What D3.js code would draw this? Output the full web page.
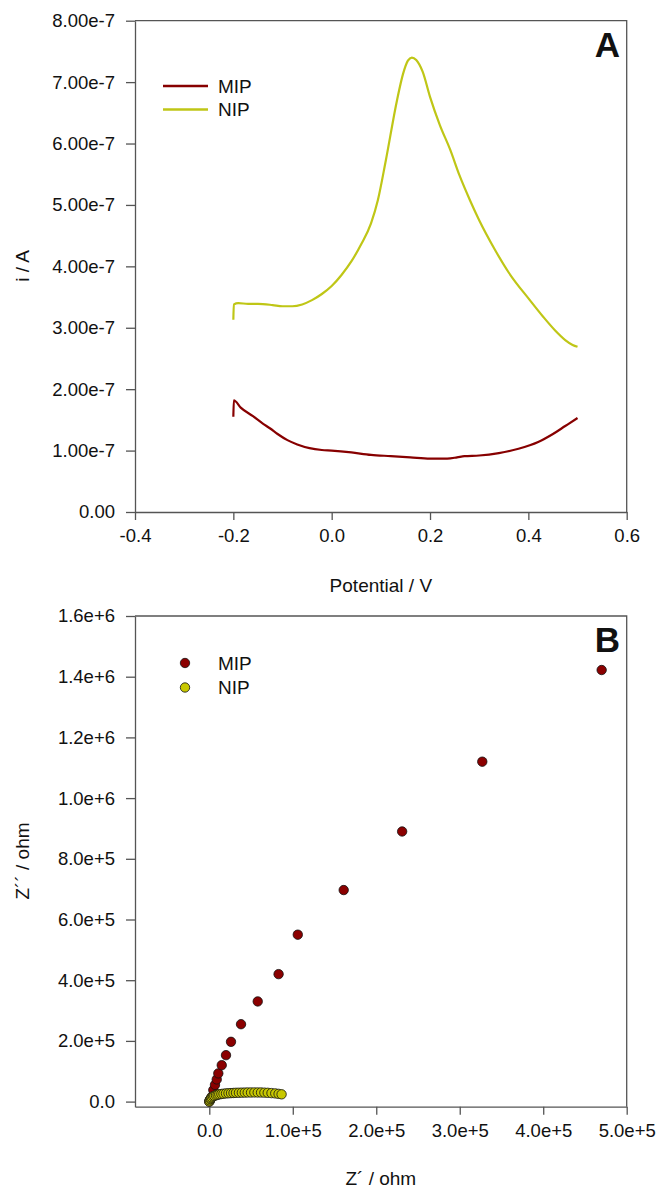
<!DOCTYPE html>
<html>
<head>
<meta charset="utf-8">
<script src="https://cdn.jsdelivr.net/npm/d3@7"></script>
<style>
  body { margin: 0; background: #fff; }
  text { font-family: "Liberation Sans", Arial, sans-serif; fill: #111; }
</style>
</head>
<body>
<script>
// Panel A: current vs potential
let mipPotential = [-0.200, -0.199, -0.185, -0.160, -0.140, -0.125, -0.110, -0.090, -0.070, -0.045, -0.020, 0.000, 0.040, 0.080, 0.120, 0.160, 0.200, 0.235, 0.255, 0.270, 0.300, 0.340, 0.380, 0.420, 0.450, 0.475, 0.500];
let mipCurrent = [1.55, 1.82, 1.70, 1.56, 1.44, 1.36, 1.27, 1.17, 1.10, 1.04, 1.01, 1.00, 0.97, 0.93, 0.91, 0.89, 0.87, 0.87, 0.89, 0.91, 0.92, 0.96, 1.03, 1.14, 1.27, 1.40, 1.53].map(v => v * 1e-7);

let nipPotential = [-0.200, -0.199, -0.190, -0.170, -0.150, -0.120, -0.100, -0.080, -0.060, -0.040, -0.020, 0.000, 0.020, 0.040, 0.060, 0.080, 0.094, 0.110, 0.133, 0.145, 0.155, 0.163, 0.172, 0.185, 0.200, 0.220, 0.241, 0.260, 0.281, 0.300, 0.332, 0.360, 0.403, 0.430, 0.454, 0.475, 0.490, 0.500];
let nipCurrent = [3.13, 3.38, 3.40, 3.39, 3.39, 3.37, 3.35, 3.35, 3.38, 3.45, 3.55, 3.68, 3.86, 4.08, 4.36, 4.70, 5.08, 5.72, 6.71, 7.13, 7.35, 7.40, 7.36, 7.17, 6.76, 6.30, 5.90, 5.48, 5.08, 4.75, 4.27, 3.90, 3.45, 3.18, 2.96, 2.80, 2.72, 2.69].map(v => v * 1e-7);

let potentialTicks = [-0.4, -0.2, 0.0, 0.2, 0.4, 0.6];
let currentTicks = [0, 1e-7, 2e-7, 3e-7, 4e-7, 5e-7, 6e-7, 7e-7, 8e-7];

// Panel B: Nyquist plot (Z' and Z'' in ohm)
let mipZre = [0.000, 0.008, 0.016, 0.029, 0.048, 0.068, 0.089, 0.108, 0.149, 0.200, 0.260, 0.380, 0.580, 0.830, 1.060, 1.610, 2.310, 3.270, 4.700].map(v => v * 1e5);
let mipZim = [0.000, 0.050, 0.090, 0.160, 0.380, 0.550, 0.730, 0.930, 1.200, 1.530, 1.970, 2.550, 3.300, 4.200, 5.500, 6.970, 8.900, 11.20, 14.22].map(v => v * 1e5);

let nipZre = [0.000, 0.005, 0.012, 0.020, 0.030, 0.045, 0.060, 0.080, 0.100, 0.120, 0.145, 0.170, 0.200, 0.230, 0.260, 0.290, 0.320, 0.355, 0.390, 0.425, 0.460, 0.500, 0.540, 0.580, 0.620, 0.660, 0.700, 0.745, 0.790, 0.830, 0.866].map(v => v * 1e5);
let nipZim = [0.00, 0.40, 0.80, 1.10, 1.40, 1.70, 1.90, 2.10, 2.25, 2.40, 2.50, 2.60, 2.70, 2.75, 2.80, 2.85, 2.90, 2.92, 2.95, 2.97, 3.00, 3.00, 3.02, 3.00, 3.00, 2.95, 2.90, 2.80, 2.70, 2.55, 2.40].map(v => v * 1e4);

let zreTicks = [0, 1e5, 2e5, 3e5, 4e5, 5e5];
let zimTicks = [0, 2e5, 4e5, 6e5, 8e5, 1e6, 1.2e6, 1.4e6, 1.6e6];

let seriesNames = ["MIP", "NIP"];
let lineColors = ["#870000", "#bfc616"];
let dotColors = ["#8b0000", "#c8c800"];

let axisColor = "#555";

let svg = d3.select("body")
  .append("svg")
    .attr("width", 656)
    .attr("height", 1189);

// Formatters that keep a plain hyphen and the SigmaPlot style zero
let fmtPot = (d) => d.toFixed(1);
let fmtCur = (d) => d === 0 ? "0.00" : d.toExponential(2);
let fmtZ = (d) => d === 0 ? "0.0" : d.toExponential(1);

function drawFrame(g, x, y, xTicks, yTicks, xFmt, yFmt) {
  let [x0, x1] = x.range();
  let [y0, y1] = y.range();

  // Bottom axis
  let xa = g.append("g")
    .attr("transform", "translate(0," + y0 + ")")
    .call(d3.axisBottom(x).tickValues(xTicks).tickFormat(xFmt).tickSize(8).tickPadding(9).tickSizeOuter(0));
  // Left axis
  let ya = g.append("g")
    .attr("transform", "translate(" + x0 + ",0)")
    .call(d3.axisLeft(y).tickValues(yTicks).tickFormat(yFmt).tickSize(9).tickPadding(11).tickSizeOuter(0));

  [xa, ya].forEach((a) => {
    a.select(".domain").attr("stroke", axisColor).attr("stroke-width", 1.3);
    a.selectAll(".tick line").attr("stroke", axisColor).attr("stroke-width", 1.3);
    a.selectAll(".tick text")
      .style("font-size", "18.5px")
      .style("font-family", "'Liberation Sans', Arial, sans-serif")
      .attr("fill", "#111");
  });

  // Top and right border
  g.append("path")
    .attr("d", "M" + x0 + "," + y1 + "H" + x1 + "V" + y0)
    .attr("fill", "none")
    .attr("stroke", axisColor)
    .attr("stroke-width", 1.3);
}

// ---------- Panel A ----------
let gA = svg.append("g");
let xA = d3.scaleLinear().domain([-0.4, 0.6]).range([135, 626.7]);
let yA = d3.scaleLinear().domain([0, 8e-7]).range([512, 20.7]);

drawFrame(gA, xA, yA, potentialTicks, currentTicks, fmtPot, fmtCur);

let lineA = d3.line()
  .x((d) => xA(d[0]))
  .y((d) => yA(d[1]))
  .curve(d3.curveMonotoneX);
let seriesA = [
  d3.zip(mipPotential, mipCurrent),
  d3.zip(nipPotential, nipCurrent)
];
seriesA.forEach((s, i) => {
  gA.append("path")
    .datum(s)
    .attr("d", lineA)
    .attr("fill", "none")
    .attr("stroke", lineColors[i])
    .attr("stroke-width", 2.2)
    .attr("stroke-linejoin", "round");
});

// Legend A
seriesNames.forEach((name, i) => {
  let ly = 86 + i * 23.5;
  gA.append("line")
    .attr("x1", 163).attr("x2", 208)
    .attr("y1", ly).attr("y2", ly)
    .attr("stroke", lineColors[i])
    .attr("stroke-width", 2.4);
  gA.append("text")
    .attr("x", 218).attr("y", ly)
    .attr("dy", "0.35em")
    .style("font-size", "19px")
    .text(name);
});

// Panel letter and axis titles
gA.append("text")
  .attr("x", 620).attr("y", 57)
  .attr("text-anchor", "end")
  .style("font-size", "35px")
  .style("font-weight", "bold")
  .text("A");

gA.append("text")
  .attr("x", (135 + 626.7) / 2).attr("y", 592)
  .attr("text-anchor", "middle")
  .style("font-size", "19px")
  .text("Potential / V");

gA.append("text")
  .attr("transform", "rotate(-90)")
  .attr("x", -266).attr("y", 29)
  .attr("text-anchor", "middle")
  .style("font-size", "19px")
  .text("i / A");

// ---------- Panel B ----------
let gB = svg.append("g");
let xB = d3.scaleLinear().domain([-0.89e5, 5e5]).range([135, 626.7]);
let yB = d3.scaleLinear().domain([-1.68e4, 1.6e6]).range([1106.7, 616]);

drawFrame(gB, xB, yB, zreTicks, zimTicks, fmtZ, fmtZ);

let seriesB = [
  d3.zip(mipZre, mipZim),
  d3.zip(nipZre, nipZim)
];
seriesB.forEach((s, i) => {
  gB.append("g")
    .selectAll("circle")
    .data(s).enter()
    .append("circle")
      .attr("cx", (d) => xB(d[0]))
      .attr("cy", (d) => yB(d[1]))
      .attr("r", 4.7)
      .attr("fill", dotColors[i])
      .attr("stroke", "#111")
      .attr("stroke-width", 0.8);
});

// Legend B
seriesNames.forEach((name, i) => {
  let ly = 663 + i * 24.5;
  gB.append("circle")
    .attr("cx", 185).attr("cy", ly)
    .attr("r", 4.7)
    .attr("fill", dotColors[i])
    .attr("stroke", "#111")
    .attr("stroke-width", 0.8);
  gB.append("text")
    .attr("x", 218).attr("y", ly)
    .attr("dy", "0.35em")
    .style("font-size", "19px")
    .text(name);
});

gB.append("text")
  .attr("x", 620).attr("y", 652)
  .attr("text-anchor", "end")
  .style("font-size", "35px")
  .style("font-weight", "bold")
  .text("B");

gB.append("text")
  .attr("x", (135 + 626.7) / 2).attr("y", 1185)
  .attr("text-anchor", "middle")
  .style("font-size", "19px")
  .text("Z\u00B4 / ohm");

gB.append("text")
  .attr("transform", "rotate(-90)")
  .attr("x", -861).attr("y", 29)
  .attr("text-anchor", "middle")
  .style("font-size", "19px")
  .text("Z\u00B4\u00B4 / ohm");
</script>
</body>
</html>
